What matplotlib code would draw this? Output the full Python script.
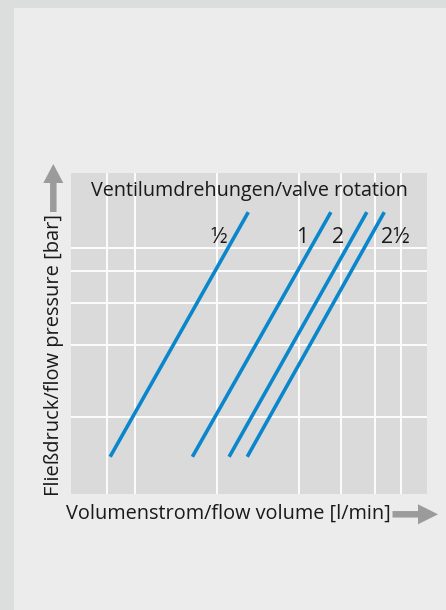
import matplotlib
matplotlib.use("Agg")
import matplotlib.pyplot as plt
from matplotlib.patches import Rectangle, FancyArrow

# data (arbitrary units, axis 0..100 each)
series_labels = ["½", "1", "2", "2½"]
x_start = [11.0, 34.1, 44.4, 49.5]
x_end = [49.8, 73.0, 83.1, 88.0]
y_start = [11.6, 11.6, 11.6, 11.6]
y_end = [87.8, 87.8, 87.8, 87.8]
label_x = [41.5, 65.0, 75.0, 91.0]
label_y = [80.0, 80.0, 80.0, 80.0]
grid_x = [10.1, 17.9, 40.9, 64.1, 75.8, 85.5, 92.7]
grid_y = [24.0, 46.4, 59.5, 69.5, 76.6]

title = "Ventilumdrehungen/valve rotation"
xlabel = "Volumenstrom/flow volume [l/min]"
ylabel = "Fließdruck/flow pressure [bar]"

FONT = "Open Sans"
W, H = 446, 610
TXT = "#1a1a1a"

fig = plt.figure(figsize=(W / 100, H / 100), dpi=100)
fig.patch.set_facecolor("#dcdddd")
fig.add_artist(Rectangle((14 / W, 0), 1 - 14 / W, 1 - 8 / H, transform=fig.transFigure,
                         facecolor="#ececec", edgecolor="none", zorder=0))

ax = fig.add_axes([71 / W, 1 - 494 / H, (427 - 71) / W, (494 - 173) / H])
ax.set_facecolor("#dadada")
ax.set_xlim(0, 100)
ax.set_ylim(0, 100)
for s in ax.spines.values():
    s.set_visible(False)
ax.set_xticks(grid_x)
ax.set_yticks(grid_y)
ax.tick_params(length=0, labelbottom=False, labelleft=False)
ax.grid(True, color="white", linewidth=1.3)
ax.set_axisbelow(True)

for xs, xe, ys, ye in zip(x_start, x_end, y_start, y_end):
    ax.plot([xs, xe], [ys, ye], color="#0a87cc", linewidth=2.6, solid_capstyle="butt")
for lab, lx, ly in zip(series_labels, label_x, label_y):
    ax.text(lx, ly, lab, ha="center", va="center", fontsize=15.5, family=[FONT, "DejaVu Sans"],
            color=TXT)
ax.text(50, 94.4, title, ha="center", va="center", fontsize=14.2, family=FONT, color=TXT)

fig.text(228.5 / W, 1 - 514 / H, xlabel, ha="center", va="center", fontsize=14.3, family=FONT,
         color=TXT)
fig.text(54 / W, 1 - 355 / H, ylabel, ha="center", va="center", rotation=90, fontsize=14.4,
         family=FONT, color=TXT)

arrow_col = "#9b9b9b"
fig.add_artist(FancyArrow(53.3 / 100, (H - 212) / 100, 0, 0.48, width=0.065, head_width=0.20,
                          head_length=0.19, length_includes_head=True,
                          transform=fig.dpi_scale_trans, color=arrow_col, linewidth=0))
fig.add_artist(FancyArrow(392.5 / 100, (H - 514.3) / 100, 0.455, 0, width=0.065, head_width=0.20,
                          head_length=0.20, length_includes_head=True,
                          transform=fig.dpi_scale_trans, color=arrow_col, linewidth=0))

fig.savefig("out.png", dpi=100, facecolor=fig.get_facecolor())
